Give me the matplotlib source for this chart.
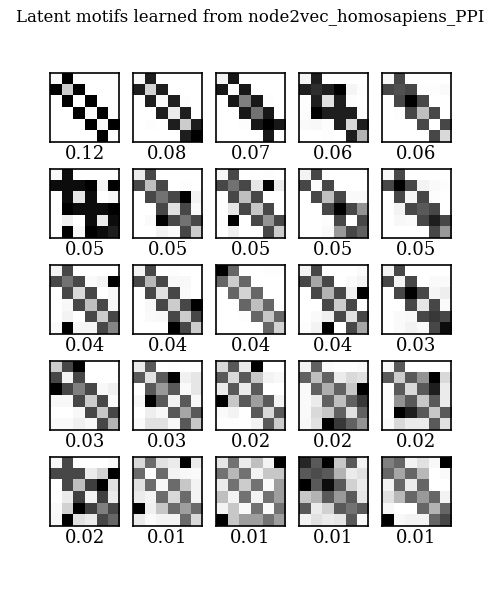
import numpy as np
import matplotlib
matplotlib.use('Agg')
import matplotlib.pyplot as plt

TITLE = 'Latent motifs learned from node2vec_homosapiens_PPI'

# importance of each motif (shown under each panel)
weights = [0.12, 0.08, 0.07, 0.06, 0.06,
           0.05, 0.05, 0.05, 0.05, 0.05,
           0.04, 0.04, 0.04, 0.04, 0.03,
           0.03, 0.03, 0.02, 0.02, 0.02,
           0.02, 0.01, 0.01, 0.01, 0.01]

# 6x6 motif matrices, values read as darkness (0 white, 1 black)
m01 = [[0.02, 1, 0, 0, 0, 0], [1, 0.2, 1, 0, 0, 0], [0, 1, 0, 1, 0, 0],
       [0, 0, 1, 0.03, 1, 0], [0, 0, 0, 1, 0.03, 1], [0, 0, 0, 0, 1, 0]]
m02 = [[0.03, 0.88, 0, 0, 0, 0], [0.88, 0.17, 0.88, 0, 0, 0], [0, 0.88, 0.03, 0.88, 0.01, 0],
       [0, 0, 0.88, 0.08, 0.88, 0], [0, 0.01, 0, 0.88, 0.2, 0.88], [0, 0, 0, 0, 0.88, 1]]
m03 = [[0.05, 0.9, 0, 0, 0, 0], [0.9, 0, 0.9, 0, 0, 0], [0, 0.9, 0.5, 0.9, 0.01, 0],
       [0, 0, 0.9, 0.55, 0.9, 0], [0, 0, 0.01, 0.9, 1, 0.9], [0, 0, 0, 0, 0.9, 0]]
m04 = [[0.05, 0.88, 0, 0, 0, 0], [0.88, 0.82, 0.88, 1, 0.04, 0.01], [0.01, 0.88, 0.12, 0.88, 0.01, 0],
       [0.01, 1, 0.88, 0.88, 0.88, 0.01], [0.02, 0.03, 0.01, 0.88, 0.15, 0.88], [0, 0, 0.01, 0, 0.88, 0.3]]
m05 = [[0.03, 0.72, 0, 0, 0, 0], [0.72, 0.68, 0.72, 0.01, 0.01, 0.02], [0, 0.72, 1, 0.72, 0, 0],
       [0, 0.01, 0.72, 0.25, 0.72, 0], [0, 0, 0, 0.72, 0, 0.72], [0, 0, 0, 0, 0.72, 0.15]]
m06 = [[0.03, 0.95, 0, 0, 0, 0], [0.95, 0.95, 0.95, 1, 0.05, 1], [0, 0.95, 0.1, 0.95, 0, 0.03],
       [0, 1, 0.95, 0.95, 0.95, 1], [0, 0.06, 0, 0.95, 0.08, 0.95], [0, 1, 0.03, 1, 0.95, 0.88]]
m07 = [[0.08, 0.72, 0, 0, 0, 0], [0.72, 0.25, 0.72, 0, 0.01, 0], [0, 0.72, 0.55, 0.72, 1, 0.05],
       [0, 0, 0.72, 0.12, 0.72, 0.02], [0, 0.02, 1, 0.72, 0.55, 0.72], [0, 0, 0.05, 0.02, 0.72, 0.2]]
m08 = [[0.03, 0.72, 0, 0, 0.01, 0], [0.72, 0.55, 0.72, 0.1, 1, 0.08], [0, 0.72, 0.25, 0.72, 0, 0],
       [0, 0.1, 0.72, 0.22, 0.72, 0], [0.01, 1, 0, 0.72, 0.42, 0.72], [0, 0.06, 0, 0, 0.72, 0.2]]
m09 = [[0.05, 0.72, 0, 0, 0, 0], [0.72, 0.01, 0.72, 0, 0, 0], [0, 0.72, 0.25, 0.72, 0.02, 0.02],
       [0, 0, 0.72, 1, 0.72, 0.42], [0, 0, 0.01, 0.72, 0, 0.72], [0, 0, 0.02, 0.4, 0.72, 0.62]]
m10 = [[0.03, 0.72, 0, 0, 0, 0], [0.72, 1, 0.72, 0.05, 0.02, 0.01], [0, 0.72, 0.04, 0.72, 0.01, 0],
       [0, 0.05, 0.72, 0.65, 0.72, 0], [0, 0.03, 0.02, 0.72, 0.88, 0.72], [0, 0, 0, 0, 0.72, 0.4]]
m11 = [[0.05, 0.72, 0, 0, 0, 0], [0.72, 0.55, 0.72, 0.02, 0.05, 1], [0, 0.72, 0.15, 0.72, 0, 0.03],
       [0, 0.03, 0.72, 0.25, 0.72, 0.03], [0, 0.05, 0, 0.72, 0.2, 0.72], [0.02, 1, 0.04, 0.04, 0.72, 0.48]]
m12 = [[0.05, 0.72, 0, 0.01, 0, 0], [0.72, 0.28, 0.72, 0.03, 0.03, 0], [0, 0.72, 0.12, 0.72, 0.02, 0],
       [0, 0.03, 0.72, 0.2, 0.72, 1], [0, 0.02, 0.03, 0.72, 0.2, 0.72], [0, 0, 0, 1, 0.72, 0.2]]
m13 = [[1, 0.6, 0, 0, 0.01, 0.01], [0.6, 0.2, 0.6, 0, 0, 0], [0, 0.6, 0.17, 0.6, 0, 0],
       [0, 0, 0.6, 0.25, 0.6, 0], [0, 0, 0.01, 0.6, 0.22, 0.6], [0, 0, 0, 0, 0.6, 0.17]]
m14 = [[0.05, 0.72, 0, 0, 0, 0.02], [0.72, 0.35, 0.72, 0, 0.02, 0.05], [0, 0.72, 0.3, 0.72, 0.06, 1],
       [0, 0, 0.72, 0.2, 0.72, 0], [0, 0.02, 0.06, 0.72, 0.12, 0.72], [0.01, 0.05, 1, 0, 0.72, 0.35]]
m15 = [[0.05, 0.72, 0, 0, 0, 0], [0.72, 0.05, 0.72, 0, 0.02, 0.02], [0, 0.72, 1, 0.72, 0.04, 0.07],
       [0, 0, 0.72, 0.1, 0.72, 0.02], [0, 0.02, 0.03, 0.72, 0.78, 0.72], [0, 0.02, 0.05, 0.02, 0.72, 0.95]]
m16 = [[0.2, 0.72, 1, 0, 0, 0], [0.72, 0.05, 0.72, 0, 0, 0], [1, 0.72, 0.5, 0.72, 0.03, 0.06],
       [0.03, 0.03, 0.72, 0.2, 0.72, 0.02], [0, 0, 0.03, 0.72, 0.22, 0.72], [0.02, 0.02, 0.06, 0.03, 0.72, 0.3]]
m17 = [[0.08, 0.65, 0, 0.01, 0, 0], [0.65, 0.12, 0.65, 1, 0.06, 0.1], [0, 0.65, 0.4, 0.65, 0.02, 0.1],
       [0.03, 1, 0.65, 0.05, 0.65, 0.03], [0, 0.07, 0.03, 0.65, 0.35, 0.65], [0.02, 0.12, 0.12, 0.03, 0.65, 0.22]]
m18 = [[0.15, 0.65, 0.08, 1, 0, 0], [0.65, 0.15, 0.65, 0.22, 0.05, 0.03], [0.08, 0.65, 0.08, 0.65, 0, 0],
       [1, 0.22, 0.65, 0.38, 0.65, 0.05], [0.02, 0.05, 0, 0.65, 0.15, 0.65], [0.01, 0.01, 0, 0.05, 0.65, 0.2]]
m19 = [[0.05, 0.62, 0.02, 0.01, 0.01, 0.02], [0.62, 0.25, 0.62, 0.08, 0.15, 0.12], [0.02, 0.62, 0.32, 0.62, 0.22, 1],
       [0.02, 0.08, 0.62, 0.25, 0.62, 0.78], [0.02, 0.15, 0.22, 0.62, 0.12, 0.62], [0.03, 0.12, 1, 0.78, 0.62, 0.42]]
m20 = [[0.03, 0.65, 0, 0, 0, 0], [0.65, 0.2, 0.65, 0.42, 1, 0.15], [0.01, 0.65, 0.15, 0.65, 0.88, 0.08],
       [0.01, 0.42, 0.65, 0.22, 0.65, 0.08], [0.01, 1, 0.88, 0.65, 0.22, 0.65], [0.02, 0.15, 0.08, 0.08, 0.65, 0.12]]
m21 = [[0.03, 0.72, 0, 0, 0, 0.02], [0.72, 0.72, 0.72, 0.08, 0.18, 1], [0, 0.72, 0.25, 0.75, 1, 0.12],
       [0, 0.08, 0.75, 0.05, 0.75, 0.08], [0.02, 0.18, 1, 0.75, 0.5, 0.72], [0.03, 1, 0.12, 0.08, 0.72, 0.6]]
m22 = [[0.15, 0.58, 0.12, 0.08, 1, 0.08], [0.58, 0, 0.58, 0.05, 0.03, 0.02], [0.12, 0.58, 0.03, 0.58, 0.22, 0.05],
       [0.08, 0.05, 0.58, 0.15, 0.58, 0.05], [1, 0.06, 0.22, 0.58, 0.38, 0.58], [0.08, 0.02, 0.05, 0.05, 0.58, 0.15]]
m23 = [[0.1, 0.55, 0.08, 0.25, 0.05, 1], [0.55, 0.28, 0.55, 0.05, 0.22, 0.22], [0.08, 0.55, 0.2, 0.55, 0.02, 0.38],
       [0.25, 0.05, 0.55, 0.05, 0.55, 0.38], [0.05, 0.22, 0.02, 0.55, 0.02, 0.55], [1, 0.22, 0.38, 0.38, 0.55, 0.38]]
m24 = [[0.85, 0.65, 1, 0.22, 0.65, 0.05], [0.65, 0.7, 0.65, 0.3, 0.08, 0.12], [1, 0.65, 0.95, 0.65, 0.18, 0.08],
       [0.22, 0.3, 0.65, 0.4, 0.65, 0.1], [0.65, 0.08, 0.18, 0.65, 0.55, 0.65], [0.05, 0.12, 0.08, 0.1, 0.65, 0.02]]
m25 = [[0.5, 0.6, 0.05, 0.12, 0.03, 1], [0.6, 0.35, 0.6, 0.28, 0, 0.02], [0.05, 0.6, 0.08, 0.6, 0, 0],
       [0.12, 0.28, 0.6, 0.4, 0.6, 0.05], [0.03, 0, 0, 0.6, 0.3, 0.6], [1, 0.03, 0.05, 0.05, 0.6, 0.72]]

motifs = [m01, m02, m03, m04, m05, m06, m07, m08, m09, m10,
          m11, m12, m13, m14, m15, m16, m17, m18, m19, m20,
          m21, m22, m23, m24, m25]

plt.rcParams['font.family'] = 'DejaVu Serif'

fig, axes = plt.subplots(5, 5, figsize=(5, 6), dpi=100,
                         gridspec_kw=dict(left=0.1, right=0.902, top=0.878, bottom=0.123,
                                          wspace=0.2, hspace=0.39))
for ax, mat, w in zip(axes.flat, motifs, weights):
    ax.imshow(np.array(mat), cmap='gray_r', vmin=0, vmax=1, interpolation='nearest')
    ax.set_xticks([])
    ax.set_yticks([])
    ax.set_xlabel(f'{w:.2f}', fontsize=13, labelpad=2)
    for s in ax.spines.values():
        s.set_linewidth(1.2)

fig.suptitle(TITLE, fontsize=12, y=0.985)
fig.savefig('out.png', dpi=100)
plt.close()
